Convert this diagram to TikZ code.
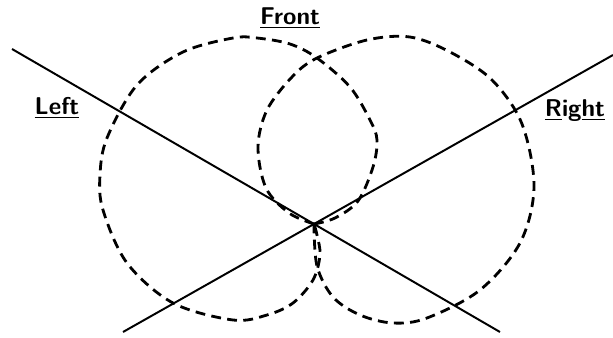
\documentclass[tikz,border=0pt]{standalone}
\usepackage{tikz}
\usetikzlibrary{positioning}
\begin{document}
\begin{tikzpicture}[
    axisline/.style={line width=1.4pt},
    lobe/.style={line width=2pt,dash pattern=on 7pt off 4.5pt,line join=round},
    lbl/.style={font=\sffamily\bfseries\LARGE,anchor=base}]
  \useasboundingbox (-7.85,-2.825) rectangle (7.475,5.6);
  % Crossing point and ends of the two axes
  \coordinate (o) at (0,0);
  \coordinate (lefttop) at (-7.55,4.375);
  \coordinate (leftbot) at (4.65,-2.7);
  \coordinate (righttop) at (7.475,4.225);
  \coordinate (rightbot) at (-4.775,-2.7);
  \draw[axisline] (lefttop) -- (o) -- (leftbot);
  \draw[axisline] (rightbot) -- (o) -- (righttop);
  % Left lobe
  \draw[lobe] plot[smooth,tension=0.55] coordinates {
    (o) (0.525,0.15) (1.1,0.575) (1.475,1.425) (1.575,2.1) (1.4,2.6)
    (0.9,3.425) (0.075,4.15) (-0.6,4.5) (-1.425,4.65) (-2.025,4.65)
    (-3.275,4.3) (-4.425,3.475) (-5.175,2.15) (-5.35,1.225) (-5.275,0.35)
    (-4.675,-0.975) (-3.525,-1.975) (-2.025,-2.4) (-1.175,-2.275)
    (-0.525,-1.975) (-0.025,-1.4) (0.15,-0.775) (0.075,-0.275) (o)};
  % Right lobe
  \draw[lobe] plot[smooth,tension=0.55] coordinates {
    (o) (-0.625,0.275) (-1.2,0.9) (-1.4,1.925) (-1.175,2.85) (-0.55,3.675)
    (0.075,4.15) (1.325,4.6) (2.4,4.675) (3.4,4.3) (4.45,3.6)
    (5.2,2.5) (5.5,0.925) (5.15,-0.475) (4.15,-1.65) (2.825,-2.35)
    (1.975,-2.475) (1.15,-2.275) (0.475,-1.825) (0.075,-1.05) (o)};
  % Labels
  \node[lbl] (front) at (-0.6,4.975) {\underline{Front}};
  \node[lbl] (left) at (-6.425,2.725) {\underline{Left}};
  \node[lbl] (right) at (6.525,2.675) {\underline{R}ig\underline{ht}};
\end{tikzpicture}
\end{document}
